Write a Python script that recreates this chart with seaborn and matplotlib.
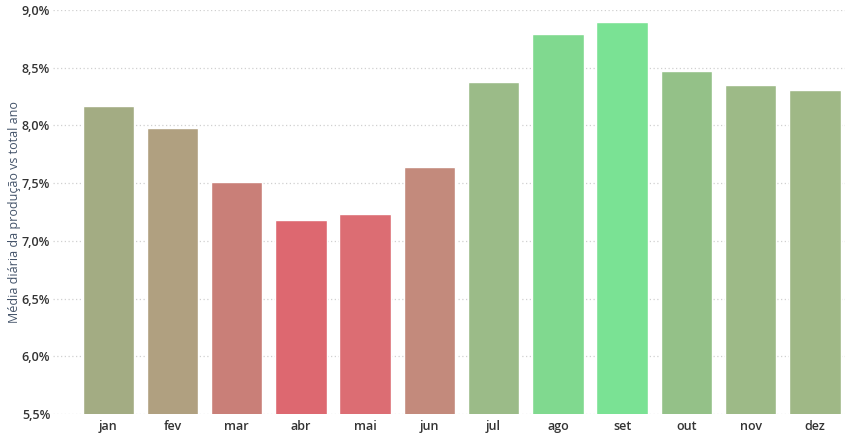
import matplotlib
matplotlib.use("Agg")
import matplotlib.pyplot as plt
import seaborn as sns
import pandas as pd
from matplotlib.ticker import FuncFormatter

months = ["jan", "fev", "mar", "abr", "mai", "jun", "jul", "ago", "set", "out", "nov", "dez"]
values = [8.17, 7.98, 7.51, 7.18, 7.23, 7.64, 8.38, 8.79, 8.90, 8.47, 8.35, 8.31]
colors = ["#a3ac83", "#b0a080", "#c97f78", "#dd6870", "#dc6d73", "#c38a7c",
          "#9bbb88", "#80d98f", "#7ae294", "#94c188", "#9dba87", "#9fb886"]
yticks = [5.5, 6.0, 6.5, 7.0, 7.5, 8.0, 8.5, 9.0]

df = pd.DataFrame({"mes": months, "valor": values})

sns.set_theme(style="white")
plt.rcParams["font.family"] = ["Open Sans", "DejaVu Sans"]

fig = plt.figure(figsize=(8.49, 4.37), dpi=100)
ax = fig.add_axes([53 / 849, 23 / 437, 792 / 849, 404 / 437])

sns.barplot(data=df, x="mes", y="valor", hue="mes", palette=colors, legend=False,
            width=0.8, ax=ax, saturation=1)

ax.set_ylim(5.5, 9.0)
ax.set_xlim(-0.86, 11.47)
ax.set_yticks(yticks)
ax.yaxis.set_major_formatter(FuncFormatter(lambda v, p: f"{v:.1f}%".replace(".", ",")))
ax.grid(axis="y", linestyle=(0, (1, 2)), color="#d0d0d0", linewidth=0.9)
ax.set_axisbelow(True)
for s in ax.spines.values():
    s.set_visible(False)
ax.tick_params(axis="both", length=0, labelsize=9, colors="#333333", pad=4)
ax.tick_params(axis="y", pad=2)
for lbl in ax.get_xticklabels() + ax.get_yticklabels():
    lbl.set_fontweight("semibold")
ax.set_xlabel("")
ax.set_ylabel("Média diária da produção vs total ano", fontsize=9, color="#44546a")
ax.yaxis.set_label_coords(-0.041, 0.5)

fig.savefig("out.png", dpi=100)
